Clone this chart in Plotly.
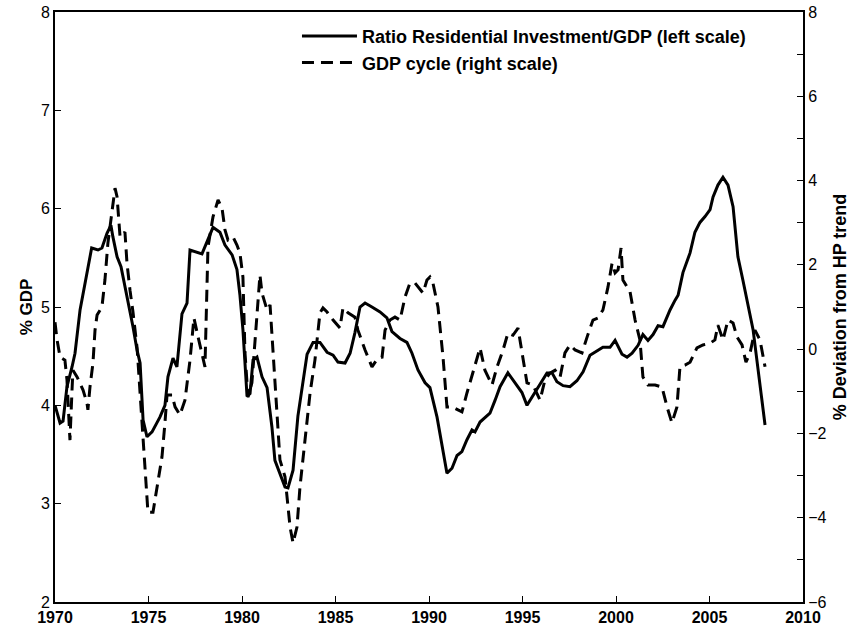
import plotly.graph_objects as go

# Ratio Residential Investment / GDP (left scale, % GDP)
ri_year = [1970.00, 1970.27, 1970.43, 1970.64, 1970.91, 1971.07, 1971.34, 1971.50, 1971.96, 1972.30,
           1972.51, 1972.78, 1972.99, 1973.10, 1973.32, 1973.53, 1973.90, 1974.17, 1974.39, 1974.55,
           1974.71, 1974.92, 1975.19, 1975.61, 1975.88, 1976.04, 1976.31, 1976.52, 1976.79, 1977.06,
           1977.22, 1977.59, 1977.86, 1978.45, 1978.82, 1979.09, 1979.47, 1979.73, 1979.89, 1980.05,
           1980.16, 1980.27, 1980.43, 1980.59, 1980.80, 1981.07, 1981.34, 1981.60, 1981.76, 1982.03,
           1982.30, 1982.46, 1982.73, 1982.99, 1983.48, 1983.80, 1984.17, 1984.55, 1984.87, 1985.13,
           1985.51, 1985.78, 1986.04, 1986.31, 1986.58, 1986.95, 1987.38, 1987.75, 1988.02, 1988.45,
           1988.82, 1989.09, 1989.41, 1989.79, 1990.05, 1990.43, 1990.96, 1991.23, 1991.50, 1991.76,
           1992.03, 1992.30, 1992.46, 1992.73, 1992.99, 1993.26, 1993.53, 1993.80, 1994.22, 1994.60,
           1994.97, 1995.24, 1995.51, 1995.83, 1996.31, 1996.58, 1996.84, 1997.17, 1997.54, 1997.91,
           1998.24, 1998.61, 1998.88, 1999.30, 1999.68, 1999.95, 2000.32, 2000.59, 2000.86, 2001.18,
           2001.44, 2001.71, 2001.98, 2002.25, 2002.51, 2002.89, 2003.16, 2003.32, 2003.58, 2003.80,
           2003.96, 2004.22, 2004.49, 2004.76, 2005.03, 2005.19, 2005.45, 2005.72, 2005.99, 2006.26,
           2006.52, 2006.79, 2007.17, 2007.33, 2007.97]
ri_value = [4.00, 3.82, 3.84, 4.19, 4.39, 4.53, 4.97, 5.14, 5.60, 5.58,
            5.60, 5.75, 5.83, 5.71, 5.51, 5.41, 5.07, 4.80, 4.56, 4.43,
            3.85, 3.68, 3.73, 3.88, 4.00, 4.29, 4.48, 4.39, 4.93, 5.04,
            5.58, 5.56, 5.54, 5.81, 5.76, 5.63, 5.53, 5.38, 5.12, 4.77,
            4.39, 4.09, 4.12, 4.46, 4.49, 4.29, 4.18, 3.78, 3.44, 3.31,
            3.17, 3.16, 3.34, 3.89, 4.52, 4.64, 4.64, 4.54, 4.51, 4.44,
            4.43, 4.53, 4.74, 5.00, 5.04, 5.00, 4.95, 4.89, 4.75, 4.68,
            4.64, 4.53, 4.36, 4.23, 4.18, 3.88, 3.31, 3.36, 3.49, 3.53,
            3.65, 3.75, 3.73, 3.83, 3.87, 3.92, 4.05, 4.19, 4.33, 4.23,
            4.13, 4.00, 4.08, 4.18, 4.33, 4.33, 4.24, 4.20, 4.19, 4.25,
            4.34, 4.51, 4.54, 4.59, 4.59, 4.66, 4.52, 4.49, 4.53, 4.61,
            4.72, 4.66, 4.72, 4.81, 4.80, 4.97, 5.07, 5.12, 5.35, 5.46,
            5.55, 5.76, 5.86, 5.92, 5.99, 6.12, 6.24, 6.32, 6.24, 6.02,
            5.51, 5.27, 4.94, 4.77, 3.80]

# GDP cycle (right scale, % deviation from HP trend)
gc_year = [1970.00, 1970.11, 1970.27, 1970.53, 1970.64, 1970.70, 1970.80, 1970.91, 1970.96, 1971.18,
           1971.50, 1971.71, 1971.76, 1971.87, 1972.03, 1972.14, 1972.25, 1972.51, 1972.67, 1972.83,
           1973.05, 1973.21, 1973.32, 1973.48, 1973.74, 1973.85, 1974.01, 1974.17, 1974.39, 1974.55,
           1974.71, 1974.92, 1974.97, 1975.24, 1975.45, 1975.72, 1975.88, 1975.99, 1976.26, 1976.42,
           1976.68, 1976.95, 1977.22, 1977.43, 1977.65, 1977.86, 1978.02, 1978.18, 1978.45, 1978.72,
           1978.93, 1979.09, 1979.25, 1979.52, 1979.73, 1979.89, 1980.05, 1980.16, 1980.27, 1980.32,
           1980.53, 1980.70, 1980.86, 1980.96, 1981.07, 1981.34, 1981.50, 1981.66, 1981.87, 1982.03,
           1982.30, 1982.41, 1982.57, 1982.73, 1982.94, 1983.10, 1983.37, 1983.64, 1983.90, 1984.17,
           1984.33, 1984.55, 1984.87, 1985.24, 1985.40, 1985.67, 1986.04, 1986.20, 1986.58, 1986.95,
           1987.27, 1987.49, 1987.65, 1987.91, 1988.18, 1988.45, 1988.72, 1988.98, 1989.25, 1989.68,
           1989.89, 1990.05, 1990.21, 1990.48, 1990.75, 1990.96, 1991.23, 1991.50, 1991.76, 1992.03,
           1992.35, 1992.73, 1992.99, 1993.37, 1993.64, 1993.96, 1994.22, 1994.49, 1994.76, 1994.97,
           1995.24, 1995.56, 1995.94, 1996.20, 1996.47, 1996.74, 1997.01, 1997.27, 1997.54, 1997.81,
           1998.18, 1998.50, 1998.77, 1999.04, 1999.30, 1999.57, 1999.79, 1999.95, 2000.11, 2000.27,
           2000.37, 2000.75, 2001.02, 2001.28, 2001.44, 2001.71, 2002.09, 2002.46, 2002.73, 2002.99,
           2003.26, 2003.42, 2003.69, 2003.96, 2004.33, 2004.65, 2005.03, 2005.29, 2005.45, 2005.72,
           2005.99, 2006.26, 2006.47, 2006.74, 2006.95, 2007.17, 2007.43, 2007.70, 2007.97]
gc_value = [0.64, 0.22, -0.19, -0.26, -0.73, -1.21, -2.16, -0.97, -0.50, -0.66,
            -0.97, -1.28, -1.44, -0.90, -0.33, 0.45, 0.81, 1.00, 1.64, 2.52,
            3.35, 3.82, 3.61, 2.66, 2.78, 2.04, 1.40, 0.88, 0.03, -1.04,
            -1.92, -3.27, -3.87, -3.87, -3.27, -2.56, -1.75, -1.09, -1.09, -1.37,
            -1.56, -1.21, -0.26, 0.74, 0.29, -0.09, -0.42, 2.42, 3.14, 3.54,
            3.35, 2.83, 2.59, 2.66, 2.47, 2.28, 1.71, -0.09, -0.73, -1.14,
            -0.80, 0.14, 1.17, 1.76, 1.33, 0.93, 1.05, -0.09, -1.61, -2.63,
            -3.03, -3.58, -4.22, -4.60, -4.22, -3.27, -2.16, -1.04, -0.26, 0.86,
            0.98, 0.88, 0.69, 0.50, 0.98, 0.86, 0.76, 0.45, -0.02, -0.42,
            -0.21, -0.19, 0.45, 0.69, 0.76, 0.69, 1.24, 1.57, 1.57, 1.33,
            1.64, 1.71, 1.57, 1.00, -0.19, -1.37, -1.37, -1.44, -1.49, -1.04,
            -0.57, 0.03, -0.50, -0.85, -0.42, -0.02, 0.38, 0.33, 0.50, -0.09,
            -0.80, -0.85, -1.21, -0.73, -0.57, -0.50, -0.66, -0.09, 0.10, -0.02,
            -0.09, 0.35, 0.69, 0.74, 0.93, 1.47, 2.04, 1.81, 1.88, 2.40,
            1.64, 1.36, 0.69, 0.22, -0.66, -0.85, -0.85, -0.90, -1.37, -1.75,
            -1.37, -0.42, -0.38, -0.31, 0.03, 0.10, 0.14, 0.22, 0.57, 0.22,
            0.69, 0.62, 0.29, 0.10, -0.31, -0.09, 0.45, 0.22, -0.42]

x_ticks = [1970, 1975, 1980, 1985, 1990, 1995, 2000, 2005, 2010]
series_names = ["Ratio Residential Investment/GDP (left scale)", "GDP cycle (right scale)"]

FONT = "Liberation Sans, Arial, sans-serif"

fig = go.Figure()
fig.add_trace(go.Scatter(x=ri_year, y=ri_value, mode="lines", name=series_names[0],
                         line=dict(color="black", width=3), yaxis="y"))
fig.add_trace(go.Scatter(x=gc_year, y=gc_value, mode="lines", name=series_names[1],
                         line=dict(color="black", width=3, dash="12px,7px"), yaxis="y2"))

fig.update_layout(
    width=854, height=628,
    margin=dict(l=55, r=51, t=12, b=26),
    paper_bgcolor="white", plot_bgcolor="white",
    font=dict(family=FONT, color="black", size=16),
    showlegend=True,
    legend=dict(x=0.3235, y=0.990, xanchor="left", yanchor="top",
                bgcolor="rgba(0,0,0,0)", borderwidth=0,
                font=dict(family=FONT, size=18, weight="bold"),
                itemwidth=55, tracegroupgap=0),
    xaxis=dict(range=[1970, 2010], tickvals=x_ticks, ticktext=[str(v) for v in x_ticks],
               showline=True, linecolor="black", linewidth=2, mirror=True,
               ticks="inside", ticklen=6, tickcolor="black",
               showgrid=False, zeroline=False, automargin=False,
               tickfont=dict(family=FONT, size=16, weight="bold")),
    yaxis=dict(range=[2, 8], dtick=1, tick0=2,
               showline=True, linecolor="black", linewidth=2,
               ticks="inside", ticklen=6, tickcolor="black",
               showgrid=False, zeroline=False, automargin=False,
               tickfont=dict(family=FONT, size=16),
               title=dict(text="% GDP", font=dict(family=FONT, size=17, weight="bold"), standoff=4)),
    yaxis2=dict(range=[-6, 8], dtick=2, tick0=-6, overlaying="y", side="right",
                showline=True, linecolor="black", linewidth=2,
                ticks="inside", ticklen=6, tickcolor="black",
                minor=dict(dtick=1, tick0=-6, ticks="inside", ticklen=6, tickcolor="black", showgrid=False),
                showgrid=False, zeroline=False, automargin=False,
                tickfont=dict(family=FONT, size=16),
                title=dict(text="% Deviation from HP trend", font=dict(family=FONT, size=18, weight="bold"), standoff=8)),
)

fig.write_html("out.html", config={"displayModeBar": False},
               post_script="document.body.style.margin='0';")
